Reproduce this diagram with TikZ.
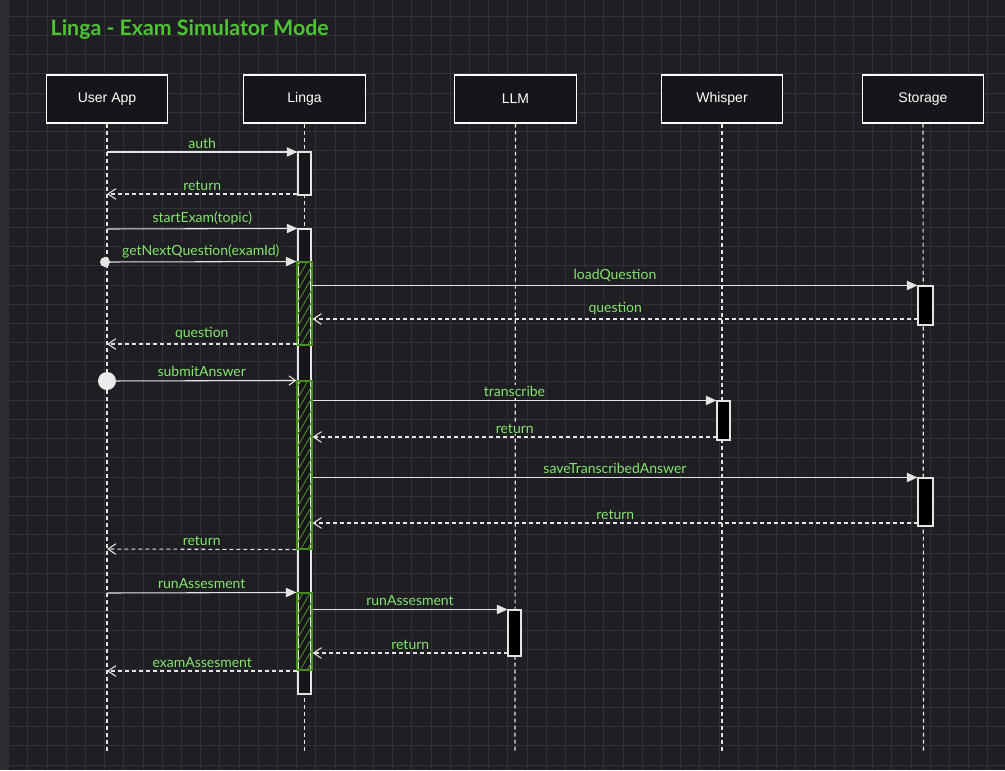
\documentclass[tikz,border=0pt]{standalone}
\usepackage{fontspec}
\setmainfont{Liberation Sans}
\newfontfamily\lblfont{Lato}
\usetikzlibrary{arrows.meta,patterns.meta}
\definecolor{canvas}{RGB}{30,30,35}
\definecolor{gridclr}{RGB}{50,50,56}
\definecolor{strip}{RGB}{46,46,50}
\definecolor{boxfill}{RGB}{22,22,26}
\definecolor{titlegreen}{RGB}{78,196,52}
\definecolor{lblgreen}{RGB}{132,230,110}
\definecolor{hatchgreen}{RGB}{72,140,34}
\definecolor{lineclr}{RGB}{228,228,228}

\begin{document}
\begin{tikzpicture}[x=0.75pt, y=-0.75pt,
    actor/.style={draw=white, fill=boxfill, line width=0.8pt, minimum width=91pt, minimum height=36pt, text=white, font=\fontsize{10.5}{12}\selectfont},
    life/.style={draw=lineclr, line width=0.9pt, dash pattern=on 3pt off 2.25pt},
    actbox/.style={draw=lineclr, fill=boxfill, line width=0.8pt, minimum width=9.75pt, inner sep=0pt},
    darkbox/.style={actbox, fill=black},
    hatchbox/.style={draw=hatchgreen, line width=0.8pt, minimum width=11.25pt, inner sep=0pt, pattern={Lines[angle=60, distance=4.5pt, line width=0.7pt]}, pattern color=hatchgreen},
    msg/.style={draw=lineclr, line width=0.8pt, -{Triangle[length=8pt, width=7pt]}},
    msgopen/.style={draw=lineclr, line width=0.8pt, -{Straight Barb[length=5pt, width=7pt]}},
    ret/.style={draw=lineclr, line width=0.8pt, dash pattern=on 3pt off 2.25pt, -{Straight Barb[length=6pt, width=8pt]}},
    lbl/.style={midway, above, yshift=1.5pt, fill=canvas, inner sep=1pt, text=lblgreen, font=\lblfont\fontsize{10.5}{12}\selectfont},
    dot/.style={circle, fill=lineclr, inner sep=0pt, minimum size=7.5pt}]
    % background and grid
    \useasboundingbox (0,0) rectangle (1005,770);
    \fill[canvas] (0,0) rectangle (1005,770);
    \foreach \i in {0,...,52} \draw[gridclr, line width=0.6pt] ({8.6+19.2*\i},0) -- ({8.6+19.2*\i},770);
    \foreach \j in {1,...,40} \draw[gridclr, line width=0.6pt] (0,{-3+19.2*\j}) -- (1005,{-3+19.2*\j});
    \fill[strip] (0,0) rectangle (9,770);
    \node[anchor=west, text=titlegreen, font=\lblfont\bfseries\fontsize{16}{19}\selectfont] (title) at (46,30) {Linga - Exam Simulator Mode};

    % participants
    \node[actor] (ua) at (107,99) {User App};
    \node[actor] (lg) at (304.5,99) {Linga};
    \node[actor] (llm) at (515.5,99) {LLM};
    \node[actor] (wh) at (722,99) {Whisper};
    \node[actor] (st) at (923,99) {Storage};
    \coordinate (uaend) at (107,752);
    \coordinate (lgend) at (304.5,752);
    \coordinate (llmend) at (515,752);
    \coordinate (whend) at (722,752);
    \coordinate (stend) at (923.5,752);
    \draw[life] (ua) -- (uaend);
    \draw[life] (lg) -- (lgend);
    \draw[life] (llm) -- (llmend);
    \draw[life] (wh) -- (whend);
    \draw[life] (st) -- (stend);

    % activations
    \node[actbox, minimum height=32.25pt] (lg1) at (304.5,173.5) {};
    \node[actbox, minimum height=348.75pt] (lg2) at (304.5,461.5) {};
    \node[hatchbox, minimum height=62.25pt] (g1) at (304.5,303.5) {};
    \node[hatchbox, minimum height=126pt] (g2) at (304.5,465) {};
    \node[hatchbox, minimum height=57.75pt] (g3) at (304.5,631.5) {};
    \node[darkbox, minimum width=11.25pt, minimum height=29.25pt] (st1) at (925.5,305.5) {};
    \node[darkbox, minimum width=11.25pt, minimum height=36pt] (st2) at (925.5,502) {};
    \node[darkbox, minimum height=29.25pt] (wh1) at (723.5,420.5) {};
    \node[darkbox, minimum height=34.5pt] (llm1) at (514.5,633) {};

    % message ends
    \coordinate (ua1) at (107,152);
    \coordinate (ua2) at (107,194);
    \coordinate (ua3) at (107,229);
    \coordinate (ua4) at (105,262);
    \coordinate (ua7) at (107,344);
    \coordinate (ua8) at (107,381);
    \coordinate (ua13) at (107,549);
    \coordinate (ua14) at (107,593);
    \coordinate (ua17) at (107,671);
    \coordinate (st1r) at (918,319);
    \coordinate (wh1r) at (717,437);
    \coordinate (st2r) at (918,523);
    \coordinate (llm1r) at (508,653);
    \node[dot] (d1) at (ua4) {};
    \node[dot, fill=white!92!black, minimum size=13.5pt] (d2) at (ua8) {};

    % messages
    \draw[msg] (ua1) -- node[lbl] {auth} (lg1.west |- ua1);
    \draw[ret] (lg1.west |- ua2) -- node[lbl] {return} (ua2);
    \draw[msg] (ua3) -- node[lbl] {startExam(topic)} (lg2.north west);
    \draw[msg] (d1.center) -- node[lbl] {getNextQuestion(examId)} (g1.north west);
    \draw[msg] (g1.east |- st1.north) -- node[lbl] {loadQuestion} (st1.north west);
    \draw[ret] (st1r) -- node[lbl] {question} (g1.east |- st1r);
    \draw[ret] (g1.west |- ua7) -- node[lbl] {question} (ua7);
    \draw[msgopen] (d2.center) -- node[lbl] {submitAnswer} (g2.north west);
    \draw[msg] (g2.east |- wh1.north) -- node[lbl] {transcribe} (wh1.north west);
    \draw[ret] (wh1r) -- node[lbl] {return} (g2.east |- wh1r);
    \draw[msg] (g2.east |- st2.north) -- node[lbl] {saveTranscribedAnswer} (st2.north west);
    \draw[ret] (st2r) -- node[lbl] {return} (g2.east |- st2r);
    \draw[ret] (g2.south west) -- node[lbl] {return} (ua13);
    \draw[msg] (ua14) -- node[lbl] {runAssesment} (g3.north west);
    \draw[msg] (g3.east |- llm1.north) -- node[lbl] {runAssesment} (llm1.north west);
    \draw[ret] (llm1r) -- node[lbl] {return} (g3.east |- llm1r);
    \draw[ret] (lg2.west |- ua17) -- node[lbl] {examAssesment} (ua17);
\end{tikzpicture}
\end{document}
